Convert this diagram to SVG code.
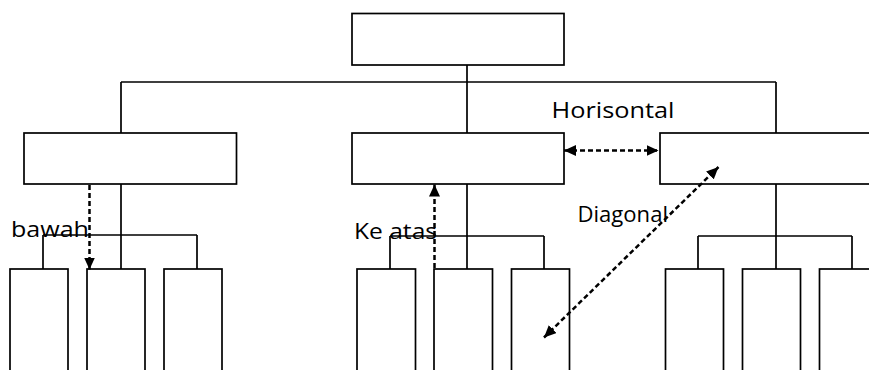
<svg xmlns="http://www.w3.org/2000/svg" width="869" height="370" viewBox="0 0 869 370">
<style>
.box{fill:#fff;stroke:#000;stroke-width:1.7}
.ln{fill:none;stroke:#000;stroke-width:1.7}
.dash{fill:none;stroke:#000;stroke-width:2.5;stroke-dasharray:5 3}
.lbl{font-family:"Open Sans","Liberation Sans",sans-serif;font-size:22px;fill:#000}
</style>
<defs>
<marker id="ah" viewBox="0 0 12 11" refX="12" refY="5.5" markerWidth="12" markerHeight="11" markerUnits="userSpaceOnUse" orient="auto-start-reverse">
<path d="M0,0 L12,5.5 L0,11 z" fill="#000"/>
</marker>
</defs>
<rect width="869" height="370" fill="#fff"/>
<g id="connectors">
<path class="ln" d="M467,65 V133 M121,82 H776 M121,82 V133 M776,82 V133"/>
<path class="ln" d="M121,184 V269 M43,235 H197 M43,235 V269 M197,235 V269"/>
<path class="ln" d="M467,184 V269 M390,236 H544 M390,236 V269 M544,236 V269"/>
<path class="ln" d="M776,184 V269 M698,236 H852 M698,236 V269 M852,236 V269"/>
</g>
<g id="n-top"><rect class="box" x="352" y="13.5" width="212" height="51.5"/></g>
<g id="n-l2-left"><rect class="box" x="24" y="133" width="212.5" height="51"/></g>
<g id="n-l2-mid"><rect class="box" x="352" y="133" width="212" height="51"/></g>
<g id="n-l2-right"><rect class="box" x="660" y="133" width="260" height="51"/></g>
<g id="n-a1"><rect class="box" x="10" y="269" width="58" height="120"/></g>
<g id="n-a2"><rect class="box" x="87" y="269" width="58" height="120"/></g>
<g id="n-a3"><rect class="box" x="164" y="269" width="58" height="120"/></g>
<g id="n-b1"><rect class="box" x="357" y="269" width="58.5" height="120"/></g>
<g id="n-b2"><rect class="box" x="434" y="269" width="58.5" height="120"/></g>
<g id="n-b3"><rect class="box" x="511.5" y="269" width="58" height="120"/></g>
<g id="n-c1"><rect class="box" x="665.5" y="269" width="58" height="120"/></g>
<g id="n-c2"><rect class="box" x="742.5" y="269" width="58" height="120"/></g>
<g id="n-c3"><rect class="box" x="819.5" y="269" width="80" height="120"/></g>
<g id="arrows">
<line class="dash" x1="564" y1="150.5" x2="658.5" y2="150.5" marker-start="url(#ah)" marker-end="url(#ah)"/>
<line class="dash" x1="89.5" y1="185" x2="89.5" y2="269.5" marker-end="url(#ah)"/>
<line class="dash" x1="434.5" y1="268" x2="434.5" y2="184.5" marker-end="url(#ah)"/>
<line class="dash" x1="544" y1="337.5" x2="718.5" y2="167" marker-start="url(#ah)" marker-end="url(#ah)"/>
</g>
<g id="labels">
<text class="lbl" x="551.5" y="117.5" textLength="123" lengthAdjust="spacingAndGlyphs">Horisontal</text>
<text class="lbl" x="577.5" y="221.5" textLength="90.5" lengthAdjust="spacingAndGlyphs">Diagonal</text>
<text class="lbl" x="11" y="237" textLength="78" lengthAdjust="spacingAndGlyphs">bawah</text>
<text class="lbl" x="354" y="238.5" textLength="83" lengthAdjust="spacingAndGlyphs">Ke atas</text>
</g>
</svg>
